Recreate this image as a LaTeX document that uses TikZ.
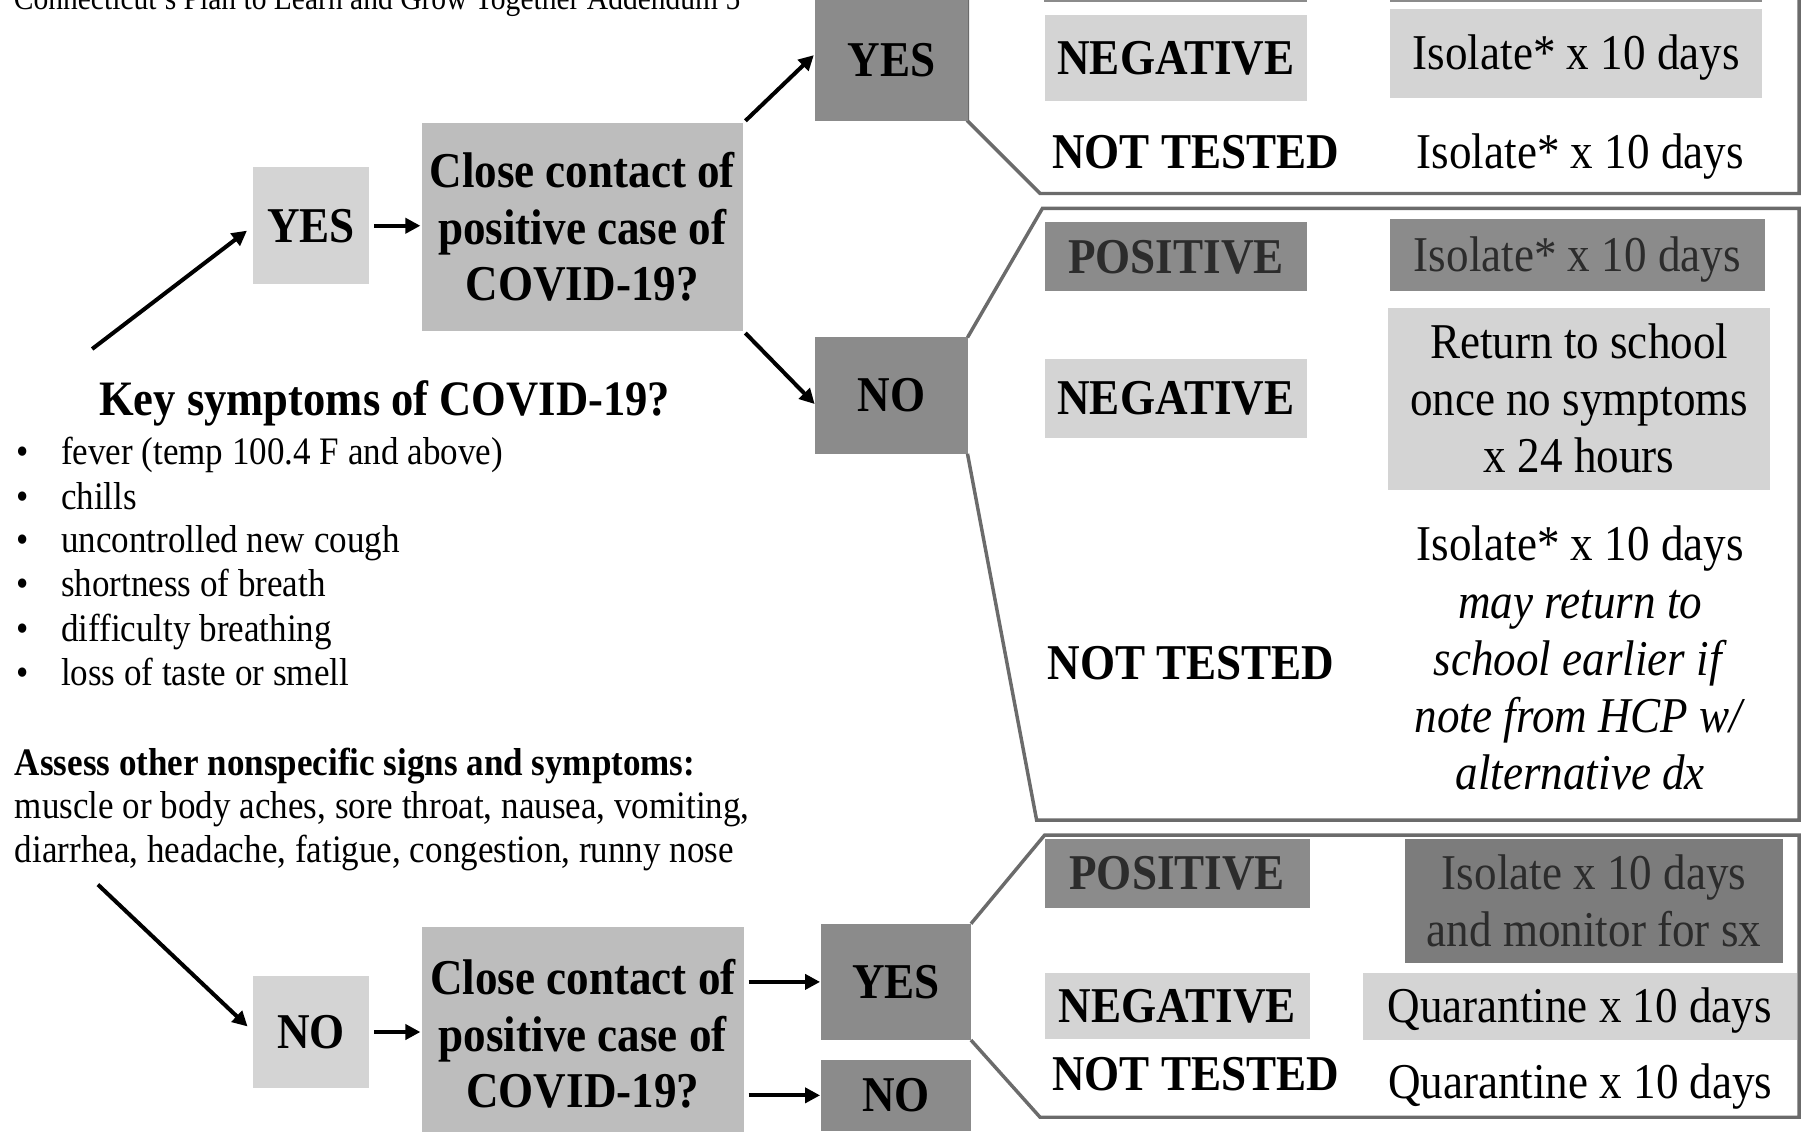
\documentclass[tikz,border=0pt]{standalone}
\usepackage{fontspec}
\setmainfont{Liberation Serif}[FakeStretch=0.9]
\usetikzlibrary{arrows.meta}
\definecolor{lightg}{HTML}{D4D4D4}
\definecolor{midg}{HTML}{BDBDBD}
\definecolor{darkg}{HTML}{8B8B8B}
\definecolor{darkerg}{HTML}{7C7C7C}
\definecolor{lineg}{HTML}{6B6B6B}
\definecolor{dtext}{HTML}{2C2C2C}
\newcommand\fbig{\fontsize{43.5pt}{49pt}\selectfont}
\newcommand\fiso{\fontsize{43.5pt}{49.75pt}\selectfont}
\newcommand\fbody{\fontsize{33.8pt}{38.5pt}\selectfont}
\newcommand\fhead{\fontsize{28.5pt}{34pt}\selectfont}
\newcommand\ftitle{\fontsize{43pt}{48pt}\selectfont}
\begin{document}
\begin{tikzpicture}[x=1pt,y=-1pt,
  box/.style={anchor=north west, inner sep=0pt, outer sep=0pt, align=center},
  one/.style={text height=32.6pt, text depth=4.35pt},
  ones/.style={text height=25.3pt, text depth=3.4pt},
  lb/.style={box, fill=lightg},
  mb/.style={box, fill=midg},
  db/.style={box, fill=darkg},
  ddb/.style={box, fill=darkerg},
  txt/.style={inner sep=0pt, outer sep=0pt},
  bracket/.style={draw=lineg, line width=3pt, line join=miter},
  arr/.style={draw=black, line width=3.5pt, -{Triangle[length=13pt,width=13pt]}}]
\useasboundingbox (0,0) rectangle (1568,982);

% header (cut off at the top)
\node[txt, anchor=base west, font=\fhead] (hdr) at (12,8) {Connecticut's Plan to Learn and Grow Together Addendum 5};

% group outlines
\draw[bracket] (840,0) -- (840,105) -- (903,168) -- (1562,168) -- (1562,-5);
\coordinate (g2a) at (905,181);
\coordinate (g2b) at (1562,181);
\coordinate (g2c) at (1562,712);
\coordinate (g2d) at (900,712);
\coordinate (g3a) at (907,725);
\coordinate (g3b) at (1562,725);
\coordinate (g3c) at (1562,970);
\coordinate (g3d) at (903,970);

% left column
\node[lb, one, font=\fbig\bfseries, minimum width=100pt, minimum height=102pt] (yesL) at (220,145) {YES};
\node[mb, font=\fbig\bfseries, minimum width=279pt, minimum height=180pt] (closeT) at (366,107) {Close contact of\\positive case of\\COVID-19?};
\node[lb, one, font=\fbig\bfseries, minimum width=100pt, minimum height=98pt] (noL) at (220,847) {NO};
\node[mb, font=\fbig\bfseries, minimum width=280pt, minimum height=185pt] (closeB) at (366,805) {Close contact of\\positive case of\\COVID-19?};

% middle column
\node[db, one, font=\fbig\bfseries, minimum width=132pt, minimum height=105pt] (yesT) at (708,0) {YES};
\node[db, one, font=\fbig\bfseries, minimum width=132pt, minimum height=101pt] (noT) at (708,293) {NO};
\node[db, one, font=\fbig\bfseries, minimum width=130pt, minimum height=101pt] (yesB) at (713,802) {YES};
\node[db, one, font=\fbig\bfseries, minimum width=130pt, minimum height=62pt] (noB) at (713,920) {NO};

% outlines joined to the boxes
\draw[bracket] (noT.north east) -- (g2a) -- (g2b) -- (g2c) -- (g2d) -- (noT.south east);
\draw[bracket] (yesB.north east) -- (g3a) -- (g3b) -- (g3c) -- (g3d) -- (yesB.south east);

% group 1
\node[db, minimum width=229pt, minimum height=12pt] (strip1) at (906,-10) {};
\node[db, minimum width=323pt, minimum height=12pt] (strip2) at (1207,-10) {};
\node[lb, one, font=\fbig\bfseries, minimum width=228pt, minimum height=75pt] (neg1) at (907,13) {NEGATIVE};
\node[lb, one, font=\fbig, minimum width=323pt, minimum height=77pt] (iso1) at (1207,8) {Isolate* x 10 days};
\node[txt, one, font=\fbig\bfseries] (nt1) at (1038,132) {NOT TESTED};
\node[txt, one, font=\fbig] (iso1b) at (1372,132) {Isolate* x 10 days};

% group 2
\node[db, one, font=\fbig\bfseries, text=dtext, minimum width=228pt, minimum height=60pt] (pos2) at (907,193) {POSITIVE};
\node[db, one, font=\fbig, text=dtext, minimum width=325pt, minimum height=63pt] (iso2) at (1207,190) {Isolate* x 10 days};
\node[lb, one, font=\fbig\bfseries, minimum width=228pt, minimum height=68pt] (neg2) at (907,312) {NEGATIVE};
\node[lb, font=\fiso, minimum width=332pt, minimum height=158pt] (ret2) at (1205,267) {Return to school\\once no symptoms\\x 24 hours};
\node[txt, one, font=\fbig\bfseries] (nt2) at (1034,576) {NOT TESTED};
\node[txt, align=center, font=\fiso] (iso2b) at (1372,571.5) {Isolate* x 10 days\\\textit{may return to}\\\textit{school earlier if}\\\textit{note from HCP w/}\\\textit{alternative dx}};

% group 3
\node[db, one, font=\fbig\bfseries, text=dtext, minimum width=230pt, minimum height=60pt] (pos3) at (907,728) {POSITIVE};
\node[ddb, font=\fiso, text=dtext, minimum width=328pt, minimum height=108pt] (iso3) at (1220,728) {Isolate x 10 days\\and monitor for sx};
\node[lb, one, font=\fbig\bfseries, minimum width=230pt, minimum height=57pt] (neg3) at (907,845) {NEGATIVE};
\node[lb, one, font=\fbig, minimum width=377pt, minimum height=58pt] (qua3) at (1183,845) {Quarantine x 10 days};
\node[txt, one, font=\fbig\bfseries] (nt3) at (1038,933) {NOT TESTED};
\node[txt, one, font=\fbig] (qua3b) at (1372,940) {Quarantine x 10 days};

% symptoms text
\node[txt, one, font=\ftitle\bfseries] (key) at (334,347) {Key symptoms of COVID-19?};
\foreach \t/\yy [count=\i] in {fever (temp 100.4 F and above)/392, chills/431, uncontrolled new cough/469, shortness of breath/507, difficulty breathing/546, loss of taste or smell/584}
  \node[txt, ones, anchor=west, font=\fbody] (b\i) at (14,\yy) {\makebox[39pt][l]{•}\t};
\node[txt, ones, anchor=west, font=\fbody\bfseries] (ass) at (13,662) {Assess other nonspecific signs and symptoms:};
\node[txt, ones, anchor=west, font=\fbody] (ns1) at (13,700) {muscle or body aches, sore throat, nausea, vomiting,};
\node[txt, ones, anchor=west, font=\fbody] (ns2) at (13,738) {diarrhea, headache, fatigue, congestion, runny nose};

% arrows
\coordinate (s1) at (80,303);
\coordinate (s2) at (85,768);
\draw[arr, shorten >=7pt] (s1) -- (yesL.west);
\draw[arr, shorten <=5pt, shorten >=1pt] (yesL.east) -- (closeT.west |- yesL.east);
\draw[arr, shorten <=3pt, shorten >=2pt] (closeT.north east) -- ([yshift=6pt]yesT.west);
\draw[arr, shorten <=3pt, shorten >=1pt] (closeT.south east) -- ([yshift=-8pt]noT.west);
\draw[arr, shorten >=7pt] (s2) -- (noL.west);
\draw[arr, shorten <=5pt, shorten >=1pt] (noL.east) -- (closeB.west |- noL.east);
\draw[arr, shorten <=4pt, shorten >=1pt] (closeB.east |- yesB.west) -- (yesB.west);
\draw[arr, shorten <=4pt, shorten >=1pt] (closeB.east |- noB.west) -- (noB.west);
\end{tikzpicture}
\end{document}
